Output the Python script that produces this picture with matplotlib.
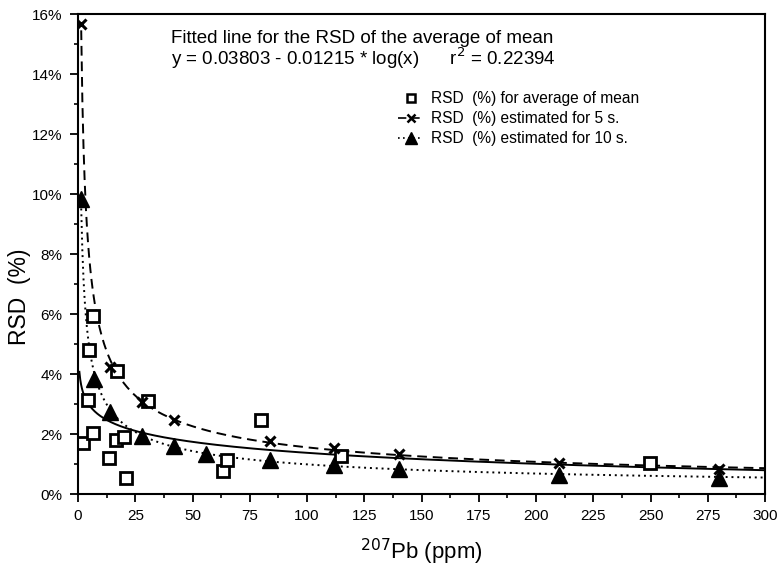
import numpy as np
import matplotlib
matplotlib.use('Agg')
import matplotlib.pyplot as plt
from matplotlib.ticker import MultipleLocator, FuncFormatter

plt.rcParams['font.family'] = ['Liberation Sans', 'DejaVu Sans']

# RSD (%) for average of mean (open squares)
mean_x = [2.3, 4.5, 4.8, 6.7, 6.7, 13.4, 16.6, 16.9, 20.2, 20.8, 30.7, 63.2, 64.9, 79.8, 114.8, 249.8]
mean_y = [1.71, 3.13, 4.79, 5.92, 2.02, 1.19, 1.80, 4.09, 1.89, 0.55, 3.10, 0.78, 1.15, 2.48, 1.27, 1.04]

# RSD (%) estimated for 5 s (crosses)
s5_x = [1.4, 14, 28, 42, 84, 112, 140, 210, 280]
s5_y = [15.68, 4.25, 3.07, 2.48, 1.77, 1.52, 1.33, 1.04, 0.85]

# RSD (%) estimated for 10 s (triangles)
s10_x = [1.4, 7, 14, 28, 42, 56, 84, 112, 140, 210, 280]
s10_y = [9.84, 3.82, 2.74, 1.93, 1.60, 1.35, 1.15, 0.96, 0.85, 0.65, 0.54]

# fitted line for RSD of average of mean
fit_a = 0.03803
fit_b = 0.01215
fit_r2 = 0.22394


def smooth_curve(xs, ys, x_end):
    # quadratic fit in log-log space, drawn as a smooth line
    c = np.polyfit(np.log(xs), np.log(ys), 2)
    xx = np.linspace(min(xs), x_end, 600)
    return xx, np.exp(np.polyval(c, np.log(xx)))


fig = plt.figure(figsize=(7.77, 5.70), dpi=100)
ax = fig.add_axes([0.1004, 0.1333, 0.8842, 0.8421])

# fitted solid line
xf = np.linspace(0.6, 300, 800)
ax.plot(xf, 100 * (fit_a - fit_b * np.log10(xf)), color='black', lw=1.4)

# dashed / dotted curves through the estimates
x5, y5 = smooth_curve(s5_x, s5_y, 300)
ax.plot(x5, y5, color='black', lw=1.4, ls=(0, (5, 3)))
x10, y10 = smooth_curve(s10_x, s10_y, 300)
ax.plot(x10, y10, color='black', lw=1.4, ls=(0, (1, 2)))

ax.plot(mean_x, mean_y, ls='none', marker='s', ms=8, mfc='white', mec='black', mew=2)
ax.plot(s5_x, s5_y, ls='none', marker='x', ms=7, mec='black', mew=2.2)
ax.plot(s10_x, s10_y, ls='none', marker='^', ms=11, color='black')

ax.set_xlim(0, 300)
ax.set_ylim(0, 16)
ax.xaxis.set_major_locator(MultipleLocator(25))
ax.xaxis.set_minor_locator(MultipleLocator(12.5))
ax.yaxis.set_major_locator(MultipleLocator(2))
ax.yaxis.set_minor_locator(MultipleLocator(1))
ax.yaxis.set_major_formatter(FuncFormatter(lambda v, p: '%d%%' % v))
ax.tick_params(axis='both', which='major', direction='out', length=6, width=1.3,
               labelsize=11, pad=5)
ax.tick_params(axis='both', which='minor', direction='out', length=3, width=1.2)
for s in ax.spines.values():
    s.set_linewidth(1.5)

ax.set_xlabel('$^{207}$Pb (ppm)', fontsize=16, labelpad=10)
ax.set_ylabel('RSD  (%)', fontsize=16.5)
ax.yaxis.set_label_coords(-0.068, 0.41)

ax.text(0.136, 0.95, 'Fitted line for the RSD of the average of mean',
        transform=ax.transAxes, fontsize=13.5, va='center')
ax.text(0.136, 0.908, 'y = %.5f - %.5f * log(x)      r$^2$ = %.5f' % (fit_a, fit_b, fit_r2),
        transform=ax.transAxes, fontsize=13.5, va='center')

# legend
h1, = ax.plot([], [], ls='none', marker='s', ms=6, mfc='white', mec='black', mew=1.8)
h2, = ax.plot([], [], color='black', lw=1.2, ls=(0, (5, 3)), marker='x', ms=6, mew=1.8)
h3, = ax.plot([], [], color='black', lw=1.2, ls=(0, (1, 2)), marker='^', ms=9)
ax.legend([h1, h2, h3],
          ['RSD  (%) for average of mean', 'RSD  (%) estimated for 5 s.',
           'RSD  (%) estimated for 10 s.'],
          loc='upper left', bbox_to_anchor=(0.455, 0.855), frameon=False,
          fontsize=11.2, handlelength=1.6, handletextpad=0.5, labelspacing=0.32,
          borderpad=0)

fig.savefig('out.png', dpi=100)
